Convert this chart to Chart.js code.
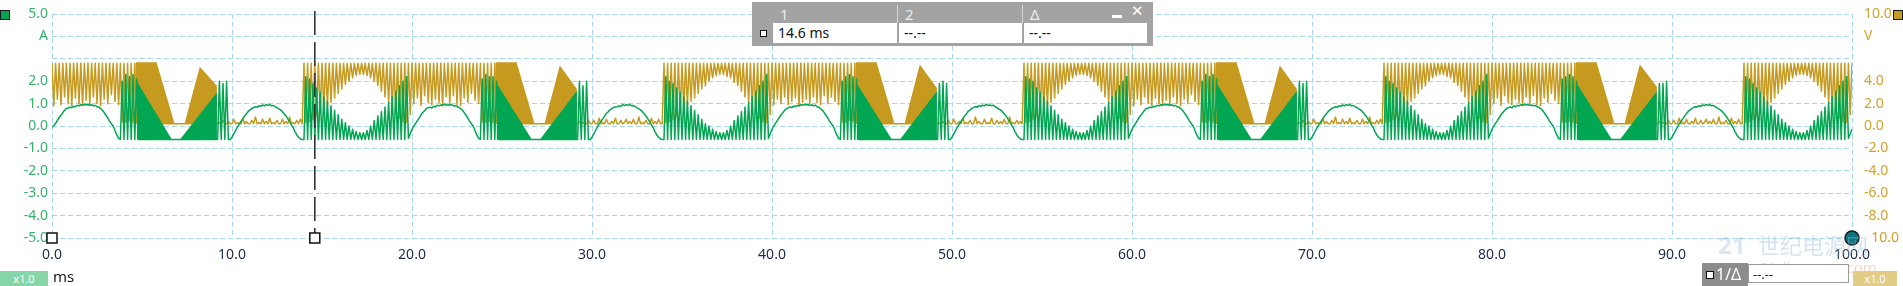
<!DOCTYPE html>
<html>
<head>
<meta charset="utf-8">
<title>Scope capture</title>
<script src="https://cdn.jsdelivr.net/npm/chart.js@4.4.1/dist/chart.umd.min.js"></script>
<style>
  body { margin: 0; background: #fff; font-family: 'Noto Sans', 'DejaVu Sans', sans-serif; }
  #wrap { position: relative; width: 1903px; height: 286px; overflow: hidden; }
  #scope { position: absolute; left: 0; top: 0; }
  .abs { position: absolute; white-space: nowrap; }
  .chan { width: 8px; height: 8px; border: 1px solid #1a1a1a; }
  #readout { left: 752px; top: 2px; width: 401px; height: 44px; background: #a3a3a3; }
  #readout .hd { color: #ececec; font-size: 15px; top: 2px; }
  #readout .sep { top: 3px; width: 1px; height: 18px; background: #d6d6d6; }
  #readout .cell { top: 21px; height: 20px; background: #fff; font-size: 14px; line-height: 20px; color: #111; padding-left: 5px; box-sizing: border-box; }
  .badge { height: 15px; font-size: 11px; line-height: 15px; text-align: center; color: #fff; }
</style>
</head>
<body>
<div id="wrap">
  <canvas id="scope" width="1903" height="286"></canvas>

  <div class="abs chan" style="left:0px; top:10px; background:#00a651;"></div>
  <div class="abs chan" style="left:1893px; top:10px; background:#c59a1f;"></div>

  <div id="readout" class="abs">
    <span class="abs hd" style="left:28px;">1</span>
    <span class="abs hd" style="left:153px;">2</span>
    <span class="abs hd" style="left:278px;">Δ</span>
    <i class="abs sep" style="left:145px;"></i>
    <i class="abs sep" style="left:270px;"></i>
    <i class="abs" style="left:360px; top:13px; width:10px; height:3px; background:#fff;"></i>
    <span class="abs" style="left:379px; top:0px; color:#fff; font: bold 15px 'DejaVu Sans', sans-serif;">✕</span>
    <i class="abs" style="left:8px; top:28px; width:5px; height:5px; border:1.5px solid #111; background:#fff;"></i>
    <div class="abs cell" style="left:21px; width:124px;">14.6 ms</div>
    <div class="abs cell" style="left:147px; width:123px;">--.--</div>
    <div class="abs cell" style="left:272px; width:123px;">--.--</div>
  </div>

  <div class="abs" style="left:1718px; top:228px; font: bold 24px 'Noto Sans', sans-serif; color: rgba(150,185,220,0.35);">21</div>
  <div class="abs" style="left:1758px; top:228px; font: 22px 'Noto Sans CJK SC', sans-serif; color: rgba(150,185,220,0.4);">世纪电源网</div>
  <div class="abs" style="left:1760px; top:257px; font: 15px 'Noto Sans', sans-serif; color: rgba(230,150,130,0.4);">21dianyuan.com</div>

  <div class="abs badge" style="left:0px; top:271px; width:48px; background:#86d6a8;">x1.0</div>
  <div class="abs" style="left:53px; top:266px; font-size:15px; color:#1a1a1a;">ms</div>
  <div class="abs" style="left:1702px; top:263px; width:46px; height:23px; background:#8c8c8c;">
    <i class="abs" style="left:4px; top:8px; width:6px; height:6px; border:1.5px solid #111; background:#fff;"></i>
    <span class="abs" style="left:14px; top:0px; color:#fff; font-size:16px;">1/Δ</span>
  </div>
  <div class="abs" style="left:1748px; top:264px; width:101px; height:19px; background:#fff; border:1px solid #9a9a9a; font-size:13px; line-height:19px; color:#222; padding-left:4px; box-sizing:border-box;">--.--</div>
  <div class="abs badge" style="left:1853px; top:271px; width:44px; background:#e3cc86;">x1.0</div>
</div>

<script>
// scope capture: 0..100 ms, one sample every 0.1 ms
const SAMPLE_MS = 0.1;
const cursorMs = 14.6;

const xTicks = [0, 10, 20, 30, 40, 50, 60, 70, 80, 90, 100];

// channel A (green, left axis, A)
const currentA = [
  -0.05,0.02,0.12,0.25,0.38,0.48,0.6,0.7,0.78,0.8,0.84,0.82,0.88,0.86,0.92,0.9,0.95,0.93,0.97,0.94,
  0.96,0.92,0.95,0.9,0.92,0.86,0.84,0.78,0.7,0.6,0.48,0.35,0.22,0.1,0.0,-0.2,-0.4,-0.55,-0.6,2.0,
  -0.6,2.3,-0.6,2.2,-0.6,2.3,-0.6,2.1,-0.6,-0.6,-0.6,-0.6,-0.6,-0.6,-0.6,-0.6,-0.6,-0.6,-0.6,-0.6,
  -0.6,-0.6,-0.6,-0.6,-0.6,-0.6,-0.6,-0.6,-0.6,-0.6,-0.6,-0.6,-0.6,-0.6,-0.6,-0.6,-0.6,-0.6,-0.6,-0.6,
  -0.6,-0.6,-0.6,-0.6,-0.6,-0.6,-0.6,-0.6,-0.6,-0.6,-0.6,-0.6,-0.6,2.0,-0.6,1.9,-0.6,2.0,-0.6,-0.6,
  -0.5,-0.35,-0.2,-0.05,0.08,0.2,0.32,0.45,0.55,0.65,0.72,0.78,0.82,0.86,0.84,0.9,0.88,0.94,0.9,0.96,
  0.92,0.95,0.9,0.92,0.86,0.82,0.76,0.72,0.64,0.55,0.45,0.32,0.2,0.05,-0.08,-0.25,-0.4,-0.5,-0.58,-0.6,
  -0.6,2.2,-0.6,2.1,-0.6,1.9,-0.6,1.7,-0.6,1.5,-0.6,1.3,-0.6,1.1,-0.6,0.9,-0.6,0.7,-0.6,0.5,
  -0.6,0.3,-0.6,0.15,-0.6,0.0,-0.6,-0.15,-0.6,-0.25,-0.6,-0.3,-0.6,-0.3,-0.6,-0.2,-0.6,0.0,-0.6,0.25,
  -0.6,0.45,-0.6,0.65,-0.6,0.85,-0.6,1.05,-0.6,1.3,-0.6,1.55,-0.6,1.8,-0.6,2.0,-0.6,2.2,-0.55,-0.35,
  -0.15,0.0,0.12,0.24,0.36,0.5,0.6,0.68,0.78,0.82,0.84,0.8,0.88,0.85,0.93,0.9,0.94,0.92,0.98,0.93,
  0.95,0.93,0.96,0.9,0.91,0.87,0.83,0.78,0.7,0.6,0.48,0.35,0.22,0.1,0.0,-0.2,-0.4,-0.55,-0.6,2.1,
  -0.6,2.3,-0.6,2.2,-0.6,2.2,-0.6,2.0,-0.6,-0.6,-0.6,-0.6,-0.6,-0.6,-0.6,-0.6,-0.6,-0.6,-0.6,-0.6,
  -0.6,-0.6,-0.6,-0.6,-0.6,-0.6,-0.6,-0.6,-0.6,-0.6,-0.6,-0.6,-0.6,-0.6,-0.6,-0.6,-0.6,-0.6,-0.6,-0.6,
  -0.6,-0.6,-0.6,-0.6,-0.6,-0.6,-0.6,-0.6,-0.6,-0.6,-0.6,-0.6,-0.6,2.0,-0.6,1.8,-0.6,2.0,-0.6,-0.6,
  -0.5,-0.35,-0.2,-0.04,0.1,0.2,0.33,0.44,0.56,0.64,0.73,0.77,0.83,0.85,0.86,0.9,0.87,0.95,0.91,0.95,
  0.93,0.96,0.9,0.91,0.87,0.81,0.77,0.71,0.64,0.55,0.45,0.32,0.2,0.05,-0.08,-0.25,-0.4,-0.5,-0.58,-0.6,
  -0.6,2.2,-0.6,2.0,-0.6,1.9,-0.6,1.7,-0.6,1.5,-0.6,1.3,-0.6,1.1,-0.6,0.9,-0.6,0.7,-0.6,0.5,
  -0.6,0.3,-0.6,0.1,-0.6,0.0,-0.6,-0.15,-0.6,-0.25,-0.6,-0.3,-0.6,-0.3,-0.6,-0.2,-0.6,0.0,-0.6,0.25,
  -0.6,0.45,-0.6,0.65,-0.6,0.85,-0.6,1.05,-0.6,1.3,-0.6,1.55,-0.6,1.8,-0.6,2.0,-0.6,2.3,-0.55,-0.35,
  -0.15,0.0,0.13,0.25,0.37,0.49,0.59,0.7,0.77,0.81,0.85,0.82,0.89,0.86,0.91,0.9,0.96,0.92,0.97,0.94,
  0.96,0.91,0.95,0.9,0.93,0.86,0.84,0.77,0.7,0.6,0.48,0.35,0.22,0.1,0.0,-0.2,-0.4,-0.55,-0.6,2.0,
  -0.6,2.2,-0.6,2.3,-0.6,2.2,-0.6,2.1,-0.6,-0.6,-0.6,-0.6,-0.6,-0.6,-0.6,-0.6,-0.6,-0.6,-0.6,-0.6,
  -0.6,-0.6,-0.6,-0.6,-0.6,-0.6,-0.6,-0.6,-0.6,-0.6,-0.6,-0.6,-0.6,-0.6,-0.6,-0.6,-0.6,-0.6,-0.6,-0.6,
  -0.6,-0.6,-0.6,-0.6,-0.6,-0.6,-0.6,-0.6,-0.6,-0.6,-0.6,-0.6,-0.6,1.9,-0.6,2.0,-0.6,1.9,-0.6,-0.6,
  -0.5,-0.35,-0.2,-0.05,0.08,0.21,0.31,0.45,0.54,0.66,0.71,0.79,0.82,0.87,0.84,0.91,0.88,0.93,0.9,0.97,
  0.92,0.94,0.9,0.93,0.86,0.82,0.75,0.72,0.64,0.55,0.45,0.32,0.2,0.05,-0.08,-0.25,-0.4,-0.5,-0.58,-0.6,
  -0.6,2.2,-0.6,2.1,-0.6,2.0,-0.6,1.7,-0.6,1.5,-0.6,1.3,-0.6,1.1,-0.6,0.9,-0.6,0.7,-0.6,0.5,
  -0.6,0.3,-0.6,0.15,-0.6,0.0,-0.6,-0.15,-0.6,-0.25,-0.6,-0.3,-0.6,-0.3,-0.6,-0.2,-0.6,0.0,-0.6,0.25,
  -0.6,0.45,-0.6,0.65,-0.6,0.85,-0.6,1.05,-0.6,1.3,-0.6,1.55,-0.6,1.8,-0.6,2.0,-0.6,2.2,-0.55,-0.35,
  -0.15,0.0,0.12,0.25,0.38,0.48,0.6,0.7,0.78,0.8,0.84,0.82,0.88,0.86,0.92,0.9,0.95,0.93,0.97,0.94,
  0.96,0.92,0.95,0.9,0.92,0.86,0.84,0.78,0.7,0.6,0.48,0.35,0.22,0.1,0.0,-0.2,-0.4,-0.55,-0.6,2.0,
  -0.6,2.3,-0.6,2.2,-0.6,2.3,-0.6,2.1,-0.6,-0.6,-0.6,-0.6,-0.6,-0.6,-0.6,-0.6,-0.6,-0.6,-0.6,-0.6,
  -0.6,-0.6,-0.6,-0.6,-0.6,-0.6,-0.6,-0.6,-0.6,-0.6,-0.6,-0.6,-0.6,-0.6,-0.6,-0.6,-0.6,-0.6,-0.6,-0.6,
  -0.6,-0.6,-0.6,-0.6,-0.6,-0.6,-0.6,-0.6,-0.6,-0.6,-0.6,-0.6,-0.6,2.0,-0.6,1.9,-0.6,2.0,-0.6,-0.6,
  -0.5,-0.35,-0.2,-0.05,0.08,0.2,0.32,0.45,0.55,0.65,0.72,0.78,0.82,0.86,0.84,0.9,0.88,0.94,0.9,0.96,
  0.92,0.95,0.9,0.92,0.86,0.82,0.76,0.72,0.64,0.55,0.45,0.32,0.2,0.05,-0.08,-0.25,-0.4,-0.5,-0.58,-0.6,
  -0.6,2.2,-0.6,2.0,-0.6,1.9,-0.6,1.7,-0.6,1.5,-0.6,1.3,-0.6,1.1,-0.6,0.9,-0.6,0.7,-0.6,0.5,
  -0.6,0.3,-0.6,0.1,-0.6,0.0,-0.6,-0.15,-0.6,-0.25,-0.6,-0.3,-0.6,-0.3,-0.6,-0.2,-0.6,0.0,-0.6,0.25,
  -0.6,0.45,-0.6,0.65,-0.6,0.85,-0.6,1.05,-0.6,1.3,-0.6,1.55,-0.6,1.8,-0.6,2.0,-0.6,2.3,-0.55,-0.35,
  -0.15,0.0,0.13,0.24,0.37,0.49,0.6,0.69,0.77,0.82,0.85,0.81,0.89,0.86,0.92,0.9,0.95,0.92,0.97,0.93,
  0.96,0.92,0.94,0.9,0.92,0.86,0.83,0.78,0.7,0.6,0.48,0.35,0.22,0.1,0.0,-0.2,-0.4,-0.55,-0.6,2.1,
  -0.6,2.2,-0.6,2.3,-0.6,2.2,-0.6,2.0,-0.6,-0.6,-0.6,-0.6,-0.6,-0.6,-0.6,-0.6,-0.6,-0.6,-0.6,-0.6,
  -0.6,-0.6,-0.6,-0.6,-0.6,-0.6,-0.6,-0.6,-0.6,-0.6,-0.6,-0.6,-0.6,-0.6,-0.6,-0.6,-0.6,-0.6,-0.6,-0.6,
  -0.6,-0.6,-0.6,-0.6,-0.6,-0.6,-0.6,-0.6,-0.6,-0.6,-0.6,-0.6,-0.6,1.9,-0.6,1.9,-0.6,2.0,-0.6,-0.6,
  -0.5,-0.35,-0.2,-0.05,0.09,0.2,0.32,0.44,0.55,0.65,0.72,0.78,0.83,0.86,0.85,0.9,0.88,0.94,0.91,0.96,
  0.93,0.95,0.9,0.92,0.86,0.82,0.76,0.71,0.64,0.55,0.45,0.32,0.2,0.05,-0.08,-0.25,-0.4,-0.5,-0.58,-0.6,
  -0.6,2.2,-0.6,2.1,-0.6,1.9,-0.6,1.7,-0.6,1.5,-0.6,1.3,-0.6,1.1,-0.6,0.9,-0.6,0.7,-0.6,0.5,
  -0.6,0.3,-0.6,0.15,-0.6,0.0,-0.6,-0.15,-0.6,-0.25,-0.6,-0.3,-0.6,-0.3,-0.6,-0.2,-0.6,0.0,-0.6,0.25,
  -0.6,0.45,-0.6,0.65,-0.6,0.85,-0.6,1.05,-0.6,1.3,-0.6,1.55,-0.6,1.8,-0.6,2.0,-0.6,2.2,-0.55,-0.35,
  -0.15
];

// channel B (gold, right axis, V)
const voltageV = [
  5.6,1.8,5.6,2.4,5.6,1.9,5.6,2.6,5.6,2.0,5.6,1.8,5.6,2.5,5.6,2.0,5.6,1.8,5.6,2.3,
  5.6,1.9,5.6,2.6,5.6,2.0,5.6,1.8,5.6,2.4,5.6,2.0,5.6,2.8,5.6,2.2,5.6,1.9,5.6,0.4,
  5.6,0.3,5.6,0.5,5.6,0.3,5.6,0.4,0.2,0.2,0.2,0.2,0.2,0.2,0.2,0.2,0.2,0.2,0.2,0.2,
  0.2,0.2,0.2,0.2,0.2,0.2,0.2,0.2,0.2,0.2,0.2,0.2,0.2,0.2,0.2,0.2,0.2,0.2,0.2,0.2,
  0.2,0.2,0.2,0.2,0.2,0.2,0.2,0.2,0.2,0.2,0.2,0.2,0.2,0.3,0.2,0.5,0.2,0.2,0.4,0.2,
  0.2,0.6,0.2,0.3,0.2,0.2,0.7,0.2,0.4,0.2,0.2,0.5,0.2,0.8,0.2,0.3,0.2,0.6,0.2,0.4,
  0.2,0.7,0.2,0.3,0.2,0.5,0.2,0.2,0.6,0.2,0.4,0.2,0.8,0.2,0.3,0.2,0.5,0.2,0.6,0.2,
  5.6,0.3,5.6,0.4,5.6,0.6,5.6,0.9,5.6,1.2,5.6,1.5,5.6,1.8,5.6,2.1,5.6,2.5,5.6,2.9,
  5.6,3.3,5.6,3.7,5.6,4.0,5.6,4.3,5.6,4.5,5.6,4.6,5.6,4.6,5.6,4.5,5.6,4.3,5.6,4.0,
  5.6,3.6,5.6,3.1,5.6,2.6,5.6,2.1,5.6,1.6,5.6,1.1,5.6,0.7,5.6,0.4,5.6,0.3,5.6,1.0,
  5.6,2.0,5.6,2.5,5.6,1.8,5.6,2.7,5.6,2.1,5.6,1.9,5.6,2.4,5.6,2.1,5.6,1.8,5.6,2.6,
  5.6,2.0,5.6,2.7,5.6,1.9,5.6,1.8,5.6,2.5,5.6,2.1,5.6,2.9,5.6,2.3,5.6,2.0,5.6,0.4,
  5.6,0.3,5.6,0.4,5.6,0.3,5.6,0.5,0.2,0.2,0.2,0.2,0.2,0.2,0.2,0.2,0.2,0.2,0.2,0.2,
  0.2,0.2,0.2,0.2,0.2,0.2,0.2,0.2,0.2,0.2,0.2,0.2,0.2,0.2,0.2,0.2,0.2,0.2,0.2,0.2,
  0.2,0.2,0.2,0.2,0.2,0.2,0.2,0.2,0.2,0.2,0.2,0.2,0.2,0.4,0.2,0.3,0.2,0.2,0.5,0.2,
  0.2,0.5,0.2,0.2,0.7,0.2,0.3,0.2,0.6,0.2,0.2,0.4,0.2,0.7,0.2,0.2,0.5,0.2,0.3,0.6,
  0.2,0.4,0.2,0.6,0.2,0.2,0.8,0.2,0.3,0.2,0.5,0.2,0.2,0.7,0.2,0.4,0.2,0.6,0.2,0.2,
  5.6,0.3,5.6,0.4,5.6,0.6,5.6,0.9,5.6,1.2,5.6,1.5,5.6,1.8,5.6,2.2,5.6,2.5,5.6,2.9,
  5.6,3.3,5.6,3.6,5.6,4.0,5.6,4.3,5.6,4.5,5.6,4.6,5.6,4.6,5.6,4.4,5.6,4.3,5.6,3.9,
  5.6,3.6,5.6,3.1,5.6,2.6,5.6,2.1,5.6,1.6,5.6,1.1,5.6,0.7,5.6,0.4,5.6,0.3,5.6,1.0,
  5.6,1.9,5.6,2.4,5.6,2.0,5.6,2.6,5.6,1.9,5.6,2.2,5.6,2.5,5.6,1.8,5.6,2.1,5.6,2.4,
  5.6,2.0,5.6,2.6,5.6,2.1,5.6,1.9,5.6,2.7,5.6,2.0,5.6,2.6,5.6,2.2,5.6,1.9,5.6,0.4,
  5.6,0.3,5.6,0.5,5.6,0.4,5.6,0.3,0.2,0.2,0.2,0.2,0.2,0.2,0.2,0.2,0.2,0.2,0.2,0.2,
  0.2,0.2,0.2,0.2,0.2,0.2,0.2,0.2,0.2,0.2,0.2,0.2,0.2,0.2,0.2,0.2,0.2,0.2,0.2,0.2,
  0.2,0.2,0.2,0.2,0.2,0.2,0.2,0.2,0.2,0.2,0.2,0.2,0.2,0.3,0.2,0.4,0.2,0.2,0.5,0.2,
  0.2,0.6,0.2,0.2,0.4,0.2,0.7,0.2,0.3,0.2,0.5,0.2,0.2,0.8,0.2,0.4,0.2,0.2,0.6,0.2,
  0.3,0.2,0.7,0.2,0.2,0.5,0.2,0.4,0.2,0.6,0.2,0.2,0.8,0.2,0.3,0.2,0.5,0.2,0.4,0.2,
  5.6,0.3,5.6,0.4,5.6,0.6,5.6,0.9,5.6,1.2,5.6,1.5,5.6,1.8,5.6,2.1,5.6,2.5,5.6,2.9,
  5.6,3.3,5.6,3.7,5.6,4.0,5.6,4.3,5.6,4.5,5.6,4.6,5.6,4.6,5.6,4.5,5.6,4.3,5.6,4.0,
  5.6,3.6,5.6,3.1,5.6,2.6,5.6,2.1,5.6,1.6,5.6,1.1,5.6,0.7,5.6,0.4,5.6,0.3,5.6,1.0,
  5.6,1.8,5.6,2.4,5.6,1.9,5.6,2.6,5.6,2.0,5.6,1.8,5.6,2.5,5.6,2.0,5.6,1.8,5.6,2.3,
  5.6,1.9,5.6,2.6,5.6,2.0,5.6,1.8,5.6,2.4,5.6,2.0,5.6,2.8,5.6,2.2,5.6,1.9,5.6,0.4,
  5.6,0.3,5.6,0.5,5.6,0.3,5.6,0.4,0.2,0.2,0.2,0.2,0.2,0.2,0.2,0.2,0.2,0.2,0.2,0.2,
  0.2,0.2,0.2,0.2,0.2,0.2,0.2,0.2,0.2,0.2,0.2,0.2,0.2,0.2,0.2,0.2,0.2,0.2,0.2,0.2,
  0.2,0.2,0.2,0.2,0.2,0.2,0.2,0.2,0.2,0.2,0.2,0.2,0.2,0.3,0.2,0.5,0.2,0.2,0.4,0.2,
  0.2,0.6,0.2,0.3,0.2,0.2,0.7,0.2,0.4,0.2,0.2,0.5,0.2,0.8,0.2,0.3,0.2,0.6,0.2,0.4,
  0.2,0.7,0.2,0.3,0.2,0.5,0.2,0.2,0.6,0.2,0.4,0.2,0.8,0.2,0.3,0.2,0.5,0.2,0.6,0.2,
  5.6,0.3,5.6,0.4,5.6,0.6,5.6,0.9,5.6,1.2,5.6,1.5,5.6,1.8,5.6,2.2,5.6,2.5,5.6,2.9,
  5.6,3.3,5.6,3.6,5.6,4.0,5.6,4.3,5.6,4.5,5.6,4.6,5.6,4.6,5.6,4.4,5.6,4.3,5.6,3.9,
  5.6,3.6,5.6,3.1,5.6,2.6,5.6,2.1,5.6,1.6,5.6,1.1,5.6,0.7,5.6,0.4,5.6,0.3,5.6,1.0,
  5.6,2.0,5.6,2.5,5.6,1.8,5.6,2.7,5.6,2.1,5.6,1.9,5.6,2.4,5.6,2.1,5.6,1.8,5.6,2.6,
  5.6,2.0,5.6,2.7,5.6,1.9,5.6,1.8,5.6,2.5,5.6,2.1,5.6,2.9,5.6,2.3,5.6,2.0,5.6,0.4,
  5.6,0.3,5.6,0.4,5.6,0.3,5.6,0.5,0.2,0.2,0.2,0.2,0.2,0.2,0.2,0.2,0.2,0.2,0.2,0.2,
  0.2,0.2,0.2,0.2,0.2,0.2,0.2,0.2,0.2,0.2,0.2,0.2,0.2,0.2,0.2,0.2,0.2,0.2,0.2,0.2,
  0.2,0.2,0.2,0.2,0.2,0.2,0.2,0.2,0.2,0.2,0.2,0.2,0.2,0.4,0.2,0.3,0.2,0.2,0.5,0.2,
  0.2,0.5,0.2,0.2,0.7,0.2,0.3,0.2,0.6,0.2,0.2,0.4,0.2,0.7,0.2,0.2,0.5,0.2,0.3,0.6,
  0.2,0.4,0.2,0.6,0.2,0.2,0.8,0.2,0.3,0.2,0.5,0.2,0.2,0.7,0.2,0.4,0.2,0.6,0.2,0.2,
  5.6,0.3,5.6,0.4,5.6,0.6,5.6,0.9,5.6,1.2,5.6,1.5,5.6,1.8,5.6,2.1,5.6,2.5,5.6,2.9,
  5.6,3.3,5.6,3.7,5.6,4.0,5.6,4.3,5.6,4.5,5.6,4.6,5.6,4.6,5.6,4.5,5.6,4.3,5.6,4.0,
  5.6,3.6,5.6,3.1,5.6,2.6,5.6,2.1,5.6,1.6,5.6,1.1,5.6,0.7,5.6,0.4,5.6,0.3,5.6,1.0,
  5.6
];

// dense PWM areas that show up as solid wedges
const voltBandMs = [4.66,4.66,5.81,6.81,7.36,8.21,9.16,9.16, 24.66,24.66,25.81,26.81,27.36,28.21,29.16,29.16,
  44.66,44.66,45.81,46.81,47.36,48.21,49.16,49.16, 64.66,64.66,65.81,66.81,67.36,68.21,69.16,69.16,
  84.66,84.66,85.81,86.81,87.36,88.21,89.16,89.16];
const voltBandV = [0.2,5.7,5.7,0.2,0.2,5.3,3.6,0.2, 0.2,5.7,5.7,0.2,0.2,5.4,3.3,0.2,
  0.2,5.7,5.7,0.2,0.2,5.5,3.4,0.2, 0.2,5.7,5.7,0.2,0.2,5.4,3.3,0.2,
  0.2,5.7,5.7,0.2,0.2,5.5,3.5,0.2];
const currBandMs = [4.71,4.71,6.66,7.11,9.16,9.16, 24.71,24.71,26.66,27.11,29.16,29.16,
  44.71,44.71,46.66,47.11,49.16,49.16, 64.71,64.71,66.66,67.11,69.16,69.16,
  84.71,84.71,86.66,87.11,89.16,89.16];
const currBandA = [-0.6,2.0,-0.6,-0.6,1.5,-0.6, -0.6,1.9,-0.6,-0.6,1.57,-0.6,
  -0.6,1.9,-0.6,-0.6,1.55,-0.6, -0.6,1.9,-0.6,-0.6,1.57,-0.6,
  -0.6,1.9,-0.6,-0.6,1.55,-0.6];

const GREEN = '#00a651';
const GOLD = '#c59a1f';
const FONT = "'Noto Sans', 'DejaVu Sans', sans-serif";

const toPoints = (xs, ys) => xs.map((x, i) => ({ x, y: ys[i] }));
const sampled = ys => ys.map((y, i) => ({ x: Math.round(i * SAMPLE_MS * 10) / 10, y }));

const scopeMarks = {
  id: 'scopeMarks',
  afterDatasetsDraw(chart) {
    const { ctx, chartArea: area } = chart;
    const x = chart.scales.x, yV = chart.scales.yV;
    const cx = x.getPixelForValue(cursorMs);
    ctx.save();
    ctx.strokeStyle = '#333';
    ctx.lineWidth = 1.6;
    ctx.setLineDash([24, 7]);
    ctx.beginPath();
    ctx.moveTo(cx, area.top - 3);
    ctx.lineTo(cx, area.bottom);
    ctx.stroke();
    ctx.setLineDash([]);

    ctx.fillStyle = '#fff';
    ctx.strokeStyle = '#111';
    ctx.lineWidth = 1.5;
    [0, cursorMs].forEach(t => {
      const px = x.getPixelForValue(t);
      ctx.fillRect(px - 5, area.bottom - 5, 10, 10);
      ctx.strokeRect(px - 5, area.bottom - 5, 10, 10);
    });

    // ground marker of channel B sits on its -10 V tick and hides the minus sign
    ctx.beginPath();
    ctx.arc(x.getPixelForValue(100), yV.getPixelForValue(-10), 7, 0, Math.PI * 2);
    ctx.fillStyle = '#0d7580';
    ctx.fill();
    ctx.strokeStyle = '#1a1a1a';
    ctx.stroke();
    ctx.restore();
  }
};

const gridStyle = { color: '#a9d6e8', lineWidth: 1, drawTicks: false };

new Chart(document.getElementById('scope'), {
  type: 'line',
  data: {
    datasets: [
      {
        label: 'B band',
        data: toPoints(voltBandMs, voltBandV),
        yAxisID: 'yV',
        borderWidth: 0,
        backgroundColor: GOLD,
        fill: { value: 0.2 },
        pointRadius: 0,
        order: 4
      },
      {
        label: 'B',
        data: sampled(voltageV),
        yAxisID: 'yV',
        borderColor: GOLD,
        borderWidth: 1.5,
        borderJoinStyle: 'round',
        pointRadius: 0,
        fill: false,
        order: 3
      },
      {
        label: 'A band',
        data: toPoints(currBandMs, currBandA),
        yAxisID: 'yA',
        borderWidth: 0,
        backgroundColor: GREEN,
        fill: { value: -0.6 },
        pointRadius: 0,
        order: 2
      },
      {
        label: 'A',
        data: sampled(currentA),
        yAxisID: 'yA',
        borderColor: GREEN,
        borderWidth: 1.5,
        borderJoinStyle: 'round',
        pointRadius: 0,
        fill: false,
        order: 1
      }
    ]
  },
  options: {
    responsive: false,
    animation: false,
    devicePixelRatio: 1,
    layout: { padding: { top: 14, left: 0, right: 0, bottom: 0 } },
    plugins: { legend: { display: false }, tooltip: { enabled: false } },
    scales: {
      x: {
        type: 'linear',
        min: 0,
        max: 100,
        afterFit: s => { s.height = 48; },
        afterBuildTicks: s => { s.ticks = xTicks.map(value => ({ value })); },
        ticks: { color: '#1e2b48', font: { family: FONT, size: 14 }, padding: 9, maxRotation: 0, autoSkip: false,
          callback: v => v.toFixed(1) },
        grid: gridStyle,
        border: { display: false, dash: [5, 3] }
      },
      yA: {
        position: 'left',
        min: -5,
        max: 5,
        afterFit: s => { s.width = 52; },
        ticks: { stepSize: 1, color: '#33b36b', font: { family: FONT, size: 14 }, padding: 4,
          callback: v => v === 4 ? 'A' : v === 3 ? '' : v.toFixed(1) },
        grid: gridStyle,
        border: { display: false, dash: [5, 3] }
      },
      yV: {
        position: 'right',
        min: -10,
        max: 10,
        afterFit: s => { s.width = 51; },
        ticks: { stepSize: 2, color: '#d4a12a', font: { family: FONT, size: 14 }, padding: 4,
          // the bottom label's minus sits under the marker, only "10.0" shows
          callback: v => v === 8 ? 'V' : v === 6 ? '' : v === -10 ? '  10.0' : v.toFixed(1) },
        grid: { display: false },
        border: { display: false }
      }
    }
  },
  plugins: [scopeMarks]
});
</script>
</body>
</html>
